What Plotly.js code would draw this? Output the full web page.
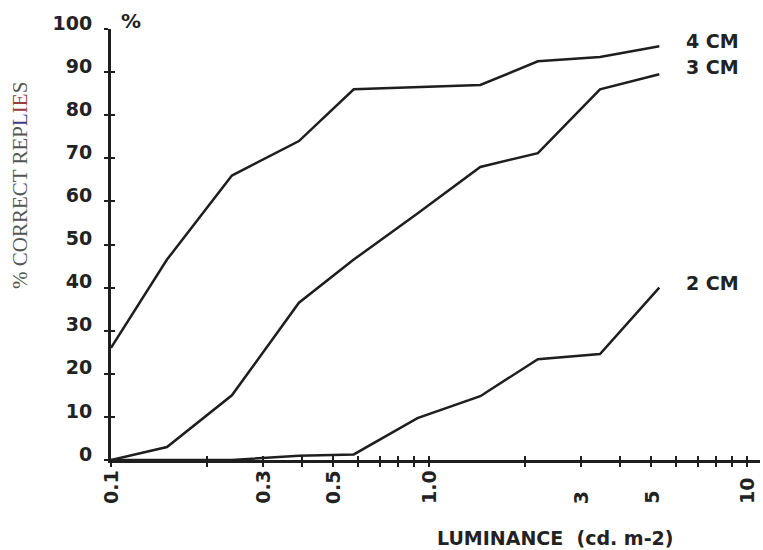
<!DOCTYPE html>
<html>
<head>
<meta charset="utf-8">
<script src="https://cdn.plot.ly/plotly-3.0.1.min.js"></script>
<style>
  html, body { margin: 0; padding: 0; background: #ffffff; }
  #chart { width: 763px; height: 550px; }
</style>
</head>
<body>
<div id="chart"></div>
<script>
// Luminance levels (cd.m-2), shared by all three series
const luminance = [0.1, 0.15, 0.24, 0.39, 0.58, 0.92, 1.45, 2.2, 3.45, 5.3];

// % correct replies for each target size
const cm4 = [26, 46.5, 66, 74, 86, 86.5, 87, 92.5, 93.5, 96];
const cm3 = [0, 3, 15, 36.5, 46.5, 57.2, 68, 71.2, 86, 89.5];
const cm2 = [0, 0, 0, 1, 1.3, 9.7, 14.8, 23.4, 24.6, 40];

const seriesNames = ['4 CM', '3 CM', '2 CM'];

// Axis ticks and labels
const xTickVals = [0.1, 0.2, 0.3, 0.4, 0.5, 0.6, 0.7, 0.8, 0.9, 1, 2, 3, 4, 5, 6, 7, 8, 9, 10];
const xLabelVals = [0.1, 0.3, 0.5, 1, 3, 5, 10];
const xLabelText = ['0.1', '0.3', '0.5', '1.0', '3', '5', '10'];
const yTickVals = [0, 10, 20, 30, 40, 50, 60, 70, 80, 90, 100];

const ink = '#1e1e1e';
const plotter = { family: 'DejaVu Sans', size: 19, weight: 'bold', color: '#222' };

const lineStyle = { color: ink, width: 2.5 };

const traces = [
  { x: luminance, y: cm4, name: seriesNames[0], mode: 'lines', line: lineStyle, cliponaxis: false },
  { x: luminance, y: cm3, name: seriesNames[1], mode: 'lines', line: lineStyle, cliponaxis: false },
  // drawn on the overlay axes (same ranges) so the inner tick marks get rendered
  { x: luminance, y: cm2, name: seriesNames[2], mode: 'lines', line: lineStyle, cliponaxis: false,
    xaxis: 'x2', yaxis: 'y2' }
];

const W = 763, H = 550;
const M = { l: 111, r: 3, t: 29, b: 90 };
const pw = W - M.l - M.r, ph = H - M.t - M.b;
const px = p => (p - M.l) / pw;          // pixel column -> paper x
const py = p => (H - M.b - p) / ph;      // pixel row -> paper y

// log range: the axis line runs a little past the last decade
const xRange = [-1, 1.041];

const annotations = [];

// x tick labels, rotated, reading upward
xLabelVals.forEach((v, i) => {
  annotations.push({
    x: Math.log10(v), xref: 'x', y: py(506), yref: 'paper',
    text: xLabelText[i], textangle: -90, showarrow: false,
    xanchor: 'center', yanchor: 'bottom', font: plotter
  });
});

// series labels at the right of the curves
const labelRows = [41, 67, 283];
seriesNames.forEach((s, i) => {
  annotations.push({
    x: px(684), xref: 'paper', y: py(labelRows[i]), yref: 'paper',
    text: s, showarrow: false, xanchor: 'left', yanchor: 'middle', font: plotter
  });
});

// unit mark at the top of the y axis
annotations.push({
  x: px(131), xref: 'paper', y: py(21), yref: 'paper', text: '%',
  showarrow: false, xanchor: 'center', yanchor: 'middle',
  font: { family: 'DejaVu Sans', size: 20, weight: 'bold', color: '#222' }
});

// x axis title
annotations.push({
  x: px(555), xref: 'paper', y: py(538), yref: 'paper',
  text: 'LUMINANCE  (cd. m-2)', showarrow: false,
  xanchor: 'center', yanchor: 'middle',
  font: { family: 'DejaVu Sans', size: 19, weight: 'bold', color: '#222' }
});

// y axis title
annotations.push({
  x: px(20), xref: 'paper', y: py(186), yref: 'paper',
  text: '% CORRECT REP<span style="color:#3d3d8f">L</span><span style="color:#9a3b3b">IE</span>S',
  textangle: -90, showarrow: false, xanchor: 'center', yanchor: 'middle',
  font: { family: 'Liberation Serif', size: 21, color: '#555' }
});

const baseX = {
  type: 'log', range: xRange, tickvals: xTickVals, showticklabels: false,
  showgrid: false, zeroline: false, fixedrange: true,
  tickcolor: ink, tickwidth: 2, ticklen: 4
};
const baseY = {
  range: [0, 100], tickvals: yTickVals, showgrid: false, zeroline: false,
  fixedrange: true, tickcolor: ink, tickwidth: 2, ticklen: 4
};

const layout = {
  width: W, height: H,
  margin: M,
  paper_bgcolor: '#ffffff', plot_bgcolor: '#ffffff',
  showlegend: false,
  xaxis: Object.assign({}, baseX, {
    ticks: 'outside', showline: true, linecolor: ink, linewidth: 3, anchor: 'y'
  }),
  xaxis2: Object.assign({}, baseX, {
    ticks: 'inside', showline: false, overlaying: 'x', anchor: 'y', side: 'bottom'
  }),
  yaxis: Object.assign({}, baseY, {
    ticks: 'outside', showline: true, linecolor: ink, linewidth: 3, anchor: 'x',
    showticklabels: true, tickfont: plotter, ticklabelstandoff: 8, ticklabelshift: -6
  }),
  yaxis2: Object.assign({}, baseY, {
    ticks: 'inside', showline: false, overlaying: 'y', anchor: 'x2', side: 'left',
    showticklabels: false
  }),
  annotations: annotations
};

Plotly.newPlot('chart', traces, layout, { staticPlot: true, displayModeBar: false });
</script>
</body>
</html>
